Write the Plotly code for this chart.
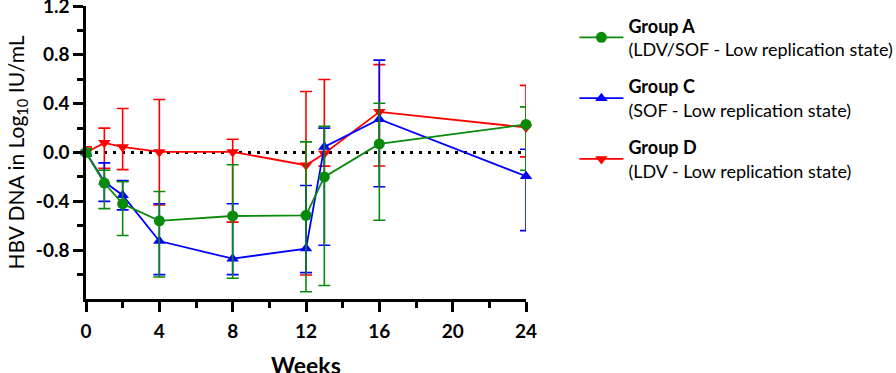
import plotly.graph_objects as go

weeks = [0, 1, 2, 4, 8, 12, 13, 16, 24]

# Group A (LDV/SOF)
a_mean = [0.0, -0.25, -0.42, -0.56, -0.52, -0.515, -0.20, 0.07, 0.23]
a_hi = [0.03, -0.145, -0.24, -0.32, -0.10, 0.087, 0.215, 0.404, 0.374]
a_lo = [-0.03, -0.46, -0.68, -1.02, -1.03, -1.14, -1.09, -0.555, -0.145]

# Group C (SOF)
c_mean = [0.0, -0.24, -0.35, -0.725, -0.87, -0.787, 0.046, 0.273, -0.194]
c_hi = [0.03, -0.085, -0.23, -0.42, -0.42, -0.27, 0.20, 0.757, 0.027]
c_lo = [-0.03, -0.40, -0.47, -1.00, -1.00, -0.984, -0.76, -0.28, -0.64]

# Group D (LDV)
d_mean = [0.0, 0.079, 0.046, 0.005, 0.005, -0.104, -0.008, 0.333, 0.205]
d_hi = [0.046, 0.20, 0.36, 0.434, 0.109, 0.50, 0.598, 0.72, 0.55]
d_lo = [-0.03, -0.13, -0.14, -0.43, -0.57, -1.003, -0.112, -0.11, -0.036]

names = ["<b>Group A</b><br>(LDV/SOF - Low replication state)",
         "<b>Group C</b><br>(SOF - Low replication state)",
         "<b>Group D</b><br>(LDV - Low replication state)"]

y_tickvals = [1.2, 0.8, 0.4, 0.0, -0.4, -0.8]
y_ticktext = ["1.2", "0.8", "0.4", "0.0", "-0.4", "-0.8"]
y_minor = [1.0, 0.6, 0.2, -0.2, -0.6, -1.0]
x_tickvals = [0, 4, 8, 12, 16, 20, 24]
x_minor = [2, 6, 10, 14, 18, 22]
x_title = "Weeks"

FONT = "Lato"

fig = go.Figure()

# reference line at zero
fig.add_trace(go.Scatter(x=[0, 24], y=[0, 0], mode="lines",
                         line=dict(color="black", width=3, dash="3px,6px"),
                         showlegend=False, hoverinfo="skip", cliponaxis=False))

series = [
    (d_mean, d_hi, d_lo, "#ff0000", "triangle-down", names[2], 3, "d"),
    (c_mean, c_hi, c_lo, "#0000ff", "triangle-up", names[1], 2, "c"),
    (a_mean, a_hi, a_lo, "#0a8a0a", "circle", names[0], 1, "a"),
]
for mean, hi, lo, col, sym, nm, rank, grp in series:
    fig.add_trace(go.Scatter(
        x=weeks, y=mean, mode="lines+markers", name=nm, legendrank=rank,
        legendgroup=grp,
        line=dict(color=col, width=1.8),
        marker=dict(color=col, symbol=sym, size=11),
        error_y=dict(type="data", symmetric=False,
                     array=[h - m for h, m in zip(hi, mean)],
                     arrayminus=[m - l for m, l in zip(mean, lo)],
                     color=col, thickness=1.6, width=6),
        cliponaxis=False,
    ))

tickfont = dict(size=19, family=FONT, weight="bold", color="black")

fig.update_layout(
    width=896, height=373,
    margin=dict(l=86, r=370, t=6, b=74, autoexpand=False),
    paper_bgcolor="white", plot_bgcolor="white",
    font=dict(family=FONT, color="black"),
    showlegend=True,
    legend=dict(x=1.11, y=0.995, xanchor="left", yanchor="top",
                font=dict(size=18, family=FONT, color="black"),
                tracegroupgap=11, itemwidth=44, bgcolor="rgba(0,0,0,0)"),
    xaxis=dict(range=[0, 24], tickvals=x_tickvals, showgrid=False, zeroline=False,
               automargin=False,
               showline=True, linecolor="black", linewidth=2.5,
               ticks="outside", ticklen=10, tickwidth=2.5, tickcolor="black",
               minor=dict(tickvals=x_minor, ticks="outside", ticklen=6, tickwidth=2.5, tickcolor="black"),
               tickfont=tickfont, ticklabeloverflow="allow", ticklabelstandoff=3),
    yaxis=dict(range=[-1.2, 1.2], tickvals=y_tickvals, ticktext=y_ticktext,
               showgrid=False, zeroline=False, automargin=False,
               showline=True, linecolor="black", linewidth=2.5,
               ticks="outside", ticklen=10, tickwidth=2.5, tickcolor="black",
               minor=dict(tickvals=y_minor, ticks="outside", ticklen=6, tickwidth=2.5, tickcolor="black"),
               tickfont=tickfont, ticklabeloverflow="allow",
               title=dict(text="HBV DNA in Log<sub>10</sub> IU/mL", font=dict(size=21, family=FONT), standoff=6)),
    annotations=[dict(text="<b>%s</b>" % x_title, x=0.5, xref="paper", y=-0.225, yref="paper",
                      xanchor="center", yanchor="middle", showarrow=False,
                      font=dict(size=23, family=FONT, color="black"))],
)

fig.write_html("out.html", config={"displayModeBar": False},
               post_script="document.body.style.margin='0';document.body.style.overflow='hidden';")
